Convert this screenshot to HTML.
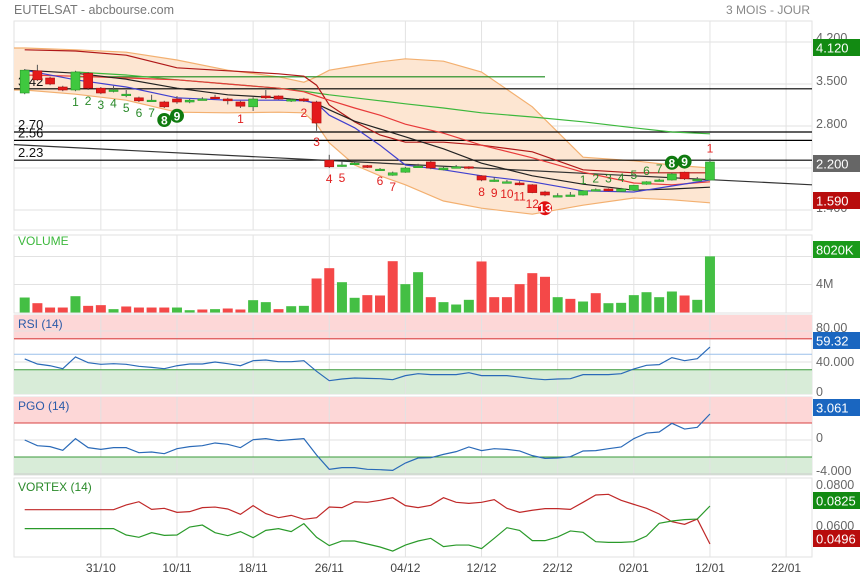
<!DOCTYPE html>
<html><head><meta charset="utf-8"><style>
html,body{margin:0;padding:0;background:#fff;}
svg{display:block;font-family:"Liberation Sans",Arial,sans-serif;}
</style></head><body>
<svg id="chart" width="860" height="579" viewBox="0 0 860 579" xmlns="http://www.w3.org/2000/svg">
<text x="14" y="14" font-size="12.5" fill="#777">EUTELSAT - abcbourse.com</text>
<text x="810" y="14" font-size="12" fill="#888" text-anchor="end">3 MOIS - JOUR</text>
<g font-size="12">
<text x="17" y="33" fill="#2222dd">MM (7)</text>
<text x="72" y="33" fill="#e03030">MM (20)</text>
<text x="133" y="33" fill="#f0b070">BOLL (20, 2)</text>
<text x="215" y="33" fill="#22aa22">MM (100)</text>
<text x="282" y="33" fill="#222">MM (14)</text>
<text x="341" y="33" fill="#000">EVT</text>
<text x="380" y="33" fill="#b01010">SUPERTREND (10, 3)</text>
<text x="515" y="33" fill="#138a13">DEMARK</text>
</g>
<g id="grid"></g>
<g id="main"></g>
<g id="vol"></g>
<g id="rsi"></g>
<g id="pgo"></g>
<g id="vtx"></g>
<g id="axis"></g>
</svg>
<script>
// ---------- data ----------
const opens  = [3.35,3.72,3.6,3.45,3.40,3.68,3.43,3.40,3.33,3.27,3.23,3.2,3.25,3.2,3.25,3.28,3.25,3.2,3.12,3.30,3.30,3.22,3.25,3.2,2.23,2.15,2.18,2.14,2.08,1.98,2.03,2.13,2.2,2.07,2.12,2.12,1.97,1.9,1.87,1.85,1.82,1.7,1.64,1.65,1.65,1.74,1.75,1.71,1.73,1.83,1.9,1.9,2.03,1.91,1.9];
const closes = [3.73,3.57,3.5,3.40,3.70,3.43,3.35,3.40,3.33,3.22,3.23,3.12,3.2,3.23,3.25,3.27,3.22,3.13,3.25,3.27,3.25,3.24,3.22,2.85,2.12,2.15,2.18,2.11,2.08,2.02,2.1,2.13,2.1,2.1,2.12,2.1,1.9,1.9,1.87,1.82,1.69,1.65,1.64,1.65,1.72,1.74,1.72,1.75,1.81,1.87,1.9,2.0,1.92,1.91,2.2];
const highs  = [3.75,3.82,3.62,3.47,3.72,3.70,3.45,3.47,3.40,3.29,3.32,3.22,3.3,3.25,3.28,3.32,3.27,3.22,3.28,3.4,3.31,3.26,3.27,3.22,2.32,2.22,2.2,2.15,2.1,2.04,2.12,2.17,2.22,2.12,2.15,2.13,1.98,1.95,1.9,1.88,1.83,1.72,1.68,1.7,1.73,1.76,1.76,1.77,1.82,1.88,1.92,2.02,2.04,1.95,2.26];
const lows   = [3.33,3.55,3.48,3.38,3.38,3.40,3.33,3.36,3.28,3.2,3.2,3.1,3.17,3.18,3.23,3.25,3.16,3.1,3.05,3.25,3.24,3.2,3.2,2.72,2.1,2.12,2.15,2.1,2.07,1.97,2.02,2.11,2.08,2.06,2.1,2.08,1.88,1.87,1.85,1.81,1.68,1.63,1.63,1.64,1.64,1.73,1.71,1.7,1.72,1.82,1.88,1.89,1.9,1.89,1.89];
const volumes = [2.14,1.33,0.71,0.71,2.33,0.95,1.05,0.48,0.86,0.71,0.71,0.71,0.71,0.33,0.43,0.48,0.57,0.43,1.76,1.48,0.48,0.9,0.95,4.86,6.33,4.33,2.1,2.48,2.43,7.33,4.05,5.76,2.19,1.48,1.14,1.81,7.29,2.19,2.19,4.05,5.62,5.1,2.19,1.95,1.57,2.76,1.33,1.38,2.48,2.9,2.19,3.0,2.43,1.81,8.02];
const volUp = [1,0,0,0,1,0,0,1,0,0,0,0,1,1,0,1,0,0,1,1,0,1,1,0,0,1,1,0,0,0,1,1,0,1,1,1,0,0,0,0,0,0,1,0,1,0,1,1,1,1,1,1,0,1,1];
// overlay lines sampled at these bars
const sampleBars = [0,4,8,12,16,20,22,23,24,26,28,30,33,36,40,44,48,51,54];
const bollUpper = [4.10,4.07,4.03,3.90,3.73,3.62,3.53,3.62,3.73,3.80,3.87,3.92,3.88,3.70,3.12,2.28,2.22,2.15,2.10];
const bollLower = [3.40,3.33,3.23,3.03,3.02,3.03,3.02,2.83,2.52,2.15,1.97,1.82,1.55,1.43,1.33,1.48,1.60,1.57,1.52];
const mm7   = [3.73,3.57,3.45,3.27,3.23,3.23,3.22,3.18,2.98,2.77,2.48,2.15,2.07,1.97,1.87,1.72,1.70,1.80,1.90];
const mm14  = [3.73,3.68,3.58,3.43,3.32,3.27,3.23,3.17,3.07,2.88,2.75,2.62,2.42,2.18,1.97,1.83,1.73,1.75,1.78];
const mm20  = [3.65,3.63,3.60,3.57,3.50,3.43,3.37,3.30,3.23,3.10,2.98,2.83,2.68,2.48,2.27,2.03,1.85,1.82,1.87];
const mm100 = [null,3.70,3.65,3.57,3.50,3.43,3.38,3.35,3.32,3.27,3.22,3.17,3.10,3.02,2.95,2.87,2.77,2.70,2.67];
const supertrend = [4.07,4.05,3.98,3.77,3.72,3.67,3.63,3.48,3.15,2.87,2.65,2.53,2.53,2.48,2.37,2.07,2.02,2.02,2.02];
const levels = [3.42,2.70,2.56,2.23];
const demarkBars   = [4,5,6,7,8,9,10,11,12,17,22,23,24,25,28,29,36,37,38,39,40,41,44,45,46,47,48,49,50,51,52,54];
const demarkLabels = ["1","2","3","4","5","6","7","8","9","1","2","3","4","5","6","7","8","9","10","11","12","13","1","2","3","4","5","6","7","8","9","1"];
const demarkUp     = [1,1,1,1,1,1,1,1,1,0,0,0,0,0,0,0,0,0,0,0,0,0,1,1,1,1,1,1,1,1,1,0];
const demarkAbove  = [0,0,0,0,0,0,0,0,0,0,0,0,0,0,0,0,0,0,0,0,0,0,1,1,1,1,1,1,1,1,1,1];
const demarkCircle = [0,0,0,0,0,0,0,1,1,0,0,0,0,0,0,0,0,0,0,0,0,1,0,0,0,0,0,0,0,1,1,0];
const rsiValues = [43.9,37.4,35.2,31.4,46.5,39.1,37.0,37.8,37.0,34.4,33.1,31.4,35.2,37.4,37.4,40.0,37.8,35.2,41.7,42.6,40.4,40.4,41.7,28.0,15.9,18.1,19.4,18.9,18.5,17.2,22.4,24.9,23.7,23.7,23.7,26.2,22.4,22.4,22.4,20.6,18.5,17.2,18.1,18.5,23.7,23.7,23.7,24.9,31.0,35.7,36.6,45.6,41.7,44.3,59.32];
const pgoValues = [0,-0.67,-0.78,-1.22,0.16,-0.9,-1.1,-0.9,-0.9,-1.49,-1.41,-1.61,-1.02,-0.78,-0.67,-0.35,-0.51,-0.9,0.04,0.16,-0.08,0.04,0.16,-1.76,-3.45,-3.25,-3.25,-3.45,-3.49,-3.57,-2.71,-2.12,-2.08,-1.69,-1.37,-0.82,-1.25,-1.02,-1.1,-1.29,-1.84,-2.16,-2.12,-1.96,-1.29,-1.25,-1.02,-0.82,0.16,0.82,0.94,1.96,1.29,1.49,3.061];
const vortexMinus = [793,793,793,793,793,793,793,793,834,862,796,805,770,776,811,816,799,753,828,759,724,744,710,724,816,811,862,857,874,897,828,811,831,897,857,848,857,880,805,770,788,802,802,796,857,920,926,874,839,805,756,689,666,712,496];
const vortexPlus  = [629,629,629,629,629,629,629,629,574,554,594,571,574,643,660,594,568,603,551,614,629,603,672,554,482,522,522,496,470,435,487,522,545,473,487,487,456,545,637,614,525,525,557,609,597,516,510,510,516,565,675,695,707,712,825];
const dateTickBars = [6,12,18,24,30,36,42,48,54,60];
const dateTickLabels = ["31/10","10/11","18/11","26/11","04/12","12/12","22/12","02/01","12/01","22/01"];

// ---------- scales ----------
const NS="http://www.w3.org/2000/svg";
const L=14, R=812;
const X = i => 24.7 + 12.69*i;
const Yp = p => 210 - (p-1.4)*60;
const Yv = v => 312.5 - v*7;
const Yr = v => 393 - v*0.775;
const Yg = v => 440 - v*8.5;
const Yx = v => 544 - (v-496)*0.1155;
function el(parent,tag,attrs){const e=document.createElementNS(NS,tag);for(const k in attrs)e.setAttribute(k,attrs[k]);parent.appendChild(e);return e;}
const G=id=>document.getElementById(id);

// ---------- grid & panels ----------
const grid=G('grid');
const panels=[[21,230],[235,313],[315,394],[397,475],[478,557]];
const panelNames=['price-panel','volume-panel','rsi-panel','pgo-panel','vortex-panel'];
panels.forEach((p,k)=>{
  const r=el(grid,'rect',{x:L,y:p[0],width:R-L,height:p[1]-p[0],fill:'#fff',stroke:'#e2e2e2'});
  
  
});
// colored zones
[[315,339.7,'#fdd7d7'],[369.8,394,'#d8ecd8'],[397,423,'#fdd7d7'],[457,475,'#d8ecd8']].forEach(z=>{
  const r=el(grid,'rect',{x:L,y:z[0],width:R-L,height:z[1]-z[0],fill:z[2]});
  
  
});
dateTickBars.forEach(b=>{
  const x=X(b); if(x>R) return;
  panels.forEach(p=>{
    const l=el(grid,'line',{x1:x,x2:x,y1:p[0],y2:p[1],stroke:'#e2e2e2'});
    
    
  });
});
[4.2,3.5,2.8,2.1,1.4].forEach(v=>{const l=el(grid,'line',{x1:L,x2:R,y1:Yp(v),y2:Yp(v),stroke:'#e2e2e2'});});
[4,8].forEach(v=>{const l=el(grid,'line',{x1:L,x2:R,y1:Yv(v),y2:Yv(v),stroke:'#e2e2e2'});});
[80,40].forEach(v=>{const l=el(grid,'line',{x1:L,x2:R,y1:Yr(v),y2:Yr(v),stroke:'#e2e2e2'});});
[[Yr(70),'#d84040'],[Yr(50),'#9cc0ea'],[Yr(30),'#3a9a3a'],[Yg(2),'#d84040'],[Yg(-2),'#3a9a3a'],[Yg(0),'#e2e2e2'],[Yg(-4),'#ccc']].forEach(a=>{
  const l=el(grid,'line',{x1:L,x2:R,y1:a[0],y2:a[0],stroke:a[1]});
  
  
});

// ---------- main price ----------
const main=G('main');
function pathFrom(vals,scale,extendLeft){
  let d='';let started=false;
  sampleBars.forEach((b,k)=>{const v=vals[k]; if(v==null) return;
    if(!started){ d+= (extendLeft? 'M'+L+','+scale(v)+' L':'M')+X(b)+','+scale(v); started=true;}
    else d+=' L'+X(b)+','+scale(v);});
  return d;
}
// bollinger fill
let fd='M'+L+','+Yp(bollUpper[0]);
sampleBars.forEach((b,k)=>fd+=' L'+X(b)+','+Yp(bollUpper[k]));
for(let k=sampleBars.length-1;k>=0;k--) fd+=' L'+X(sampleBars[k])+','+Yp(bollLower[k]);
fd+=' L'+L+','+Yp(bollLower[0])+' Z';
const bf=el(main,'path',{d:fd,fill:'#fde6d2'});


const bu=el(main,'path',{d:pathFrom(bollUpper,Yp,true),fill:'none',stroke:'#f3b070','stroke-width':1.2});


const bl=el(main,'path',{d:pathFrom(bollLower,Yp,true),fill:'none',stroke:'#f3b070','stroke-width':1.2});


// levels
levels.forEach(v=>{
  const l=el(main,'line',{x1:L,x2:R,y1:Yp(v),y2:Yp(v),stroke:'#000','stroke-width':1.2});
  
  
  const t=el(main,'text',{x:18,y:Yp(v)-3,'font-size':13,fill:'#111'}); t.textContent=v.toFixed(2);
  
  
});
const gh=el(main,'line',{x1:77,x2:545,y1:Yp(3.62),y2:Yp(3.62),stroke:'#1a8a1a','stroke-width':1.2});


const tl=el(main,'line',{x1:L,x2:R,y1:Yp(2.49),y2:Yp(1.82),stroke:'#333','stroke-width':1.2});


// MAs
[[mm100,'#3cb83c','mm100-line'],[supertrend,'#b01818','supertrend-line'],[mm20,'#e83a3a','mm20-line'],[mm14,'#222','mm14-line'],[mm7,'#4040d0','mm7-line']].forEach(a=>{
  const p=el(main,'path',{d:pathFrom(a[0],Yp,false),fill:'none',stroke:a[1],'stroke-width':1.2});
  
  
});
// candles
opens.forEach((o,i)=>{
  const c=closes[i],x=X(i),up=c>=o;
  const col=up?'#3fc83f':'#e41a1a';
  const w=el(main,'line',{x1:x,x2:x,y1:Yp(highs[i]),y2:Yp(lows[i]),stroke:'#555'});
  
  
  const top=Yp(Math.max(o,c)),h=Math.max(1.5,Math.abs(Yp(o)-Yp(c)));
  const b=el(main,'rect',{x:x-4.5,y:top,width:9,height:h,fill:col,stroke:up?'#2a9a2a':'#b01010','stroke-width':0.6});
  
  
});
// demark
demarkBars.forEach((b,k)=>{
  const x=X(b);
  const y=demarkAbove[k]? Yp(highs[b])-6 : Yp(lows[b])+15;
  const col=demarkUp[k]?'#2a8a2a':'#e02020';
  if(demarkCircle[k]){
    const cy=demarkAbove[k]? y-4 : y-3;
    const c=el(main,'circle',{cx:x,cy:cy,r:7,fill:demarkUp[k]?'#0f7a0f':'#e01010'});
    
    
    const t=el(main,'text',{x:x,y:cy+4.5,'font-size':12,'font-weight':'bold',fill:'#fff','text-anchor':'middle'});t.textContent=demarkLabels[k];
    
    
  } else {
    const t=el(main,'text',{x:x,y:y,'font-size':12,fill:col,'text-anchor':'middle'});t.textContent=demarkLabels[k];
    
    
  }
});

// ---------- volume ----------
const vol=G('vol');
const vt=el(vol,'text',{x:18,y:245,'font-size':12,fill:'#3cb83c'});vt.textContent='VOLUME';


volumes.forEach((v,i)=>{
  const r=el(vol,'rect',{x:X(i)-5,y:Yv(v),width:10,height:Yv(0)-Yv(v),fill:volUp[i]?'#44bf44':'#f44848'});
  
  
});

// ---------- line helper ----------
function series(parent,vals,scale,color,name){
  const d=vals.map((v,i)=>(i?'L':'M')+X(i)+','+scale(v)).join(' ');
  const p=el(parent,'path',{d:d,fill:'none',stroke:color,'stroke-width':1.2});
  
  
}
const rsi=G('rsi');
const rt=el(rsi,'text',{x:18,y:328,'font-size':12,fill:'#2a5aa8'});rt.textContent='RSI (14)';


series(rsi,rsiValues,Yr,'#2a6ab8','rsi-line');
const pgo=G('pgo');
const pt=el(pgo,'text',{x:18,y:410,'font-size':12,fill:'#2a5aa8'});pt.textContent='PGO (14)';


series(pgo,pgoValues,Yg,'#2a6ab8','pgo-line');
const vtx=G('vtx');
const xt=el(vtx,'text',{x:18,y:491,'font-size':12,fill:'#2a8a2a'});xt.textContent='VORTEX (14)';


series(vtx,vortexMinus,Yx,'#c02828','vortex-minus-line');
series(vtx,vortexPlus,Yx,'#2a9a2a','vortex-plus-line');

// ---------- axes ----------
const ax=G('axis');
function axLabel(y,txt){const t=el(ax,'text',{x:816,y:y,'font-size':12.5,fill:'#666'});t.textContent=txt;
  
  }
function box(y1,y2,color,txt){
  const r=el(ax,'rect',{x:813,y:y1,width:47,height:y2-y1,fill:color});
  
  
  const t=el(ax,'text',{x:816,y:y2-3.5,'font-size':13,fill:'#fff'});t.textContent=txt;
  
  
}
axLabel(42,'4.200');axLabel(85,'3.500');axLabel(128,'2.800');axLabel(212,'1.400');
axLabel(288,'4M');axLabel(332,'80.00');axLabel(366,'40.000');axLabel(396,'0');
axLabel(442,'0');axLabel(475,'-4.000');axLabel(489,'0.0800');axLabel(530,'0.0600');
box(39,56,'#128a12','4.120');box(155,172,'#666','2.200');box(192,209,'#b80c0c','1.590');
box(241,258,'#1a9a1a','8020K');box(332,349,'#1a66c0','59.32');box(399,416,'#1a66c0','3.061');
box(492,509,'#128a12','0.0825');box(530,547,'#b80c0c','0.0496');
dateTickBars.forEach((b,k)=>{
  const t=el(ax,'text',{x:X(b),y:572,'font-size':12,fill:'#444','text-anchor':'middle'});t.textContent=dateTickLabels[k];
  
  
});
</script>
</body></html>
